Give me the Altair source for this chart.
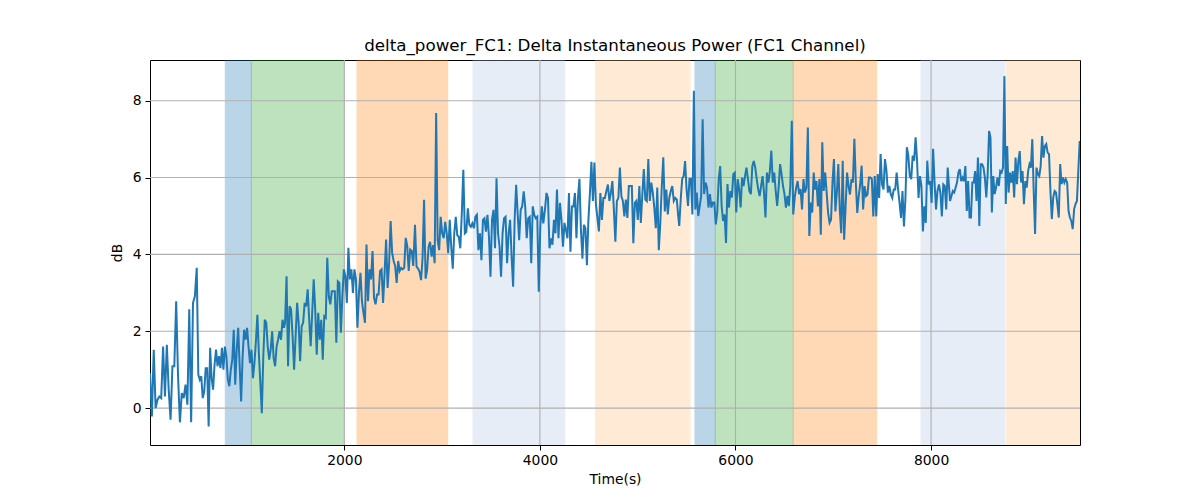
import altair as alt
import pandas as pd
import numpy as np

# ---- line data: values, per stretch of time ----
seg_bounds = [(13, 491), (507, 1383), (1394, 2705), (2723, 4035), (4052, 5415),
              (5425, 6800), (6813, 8170), (8194, 9520)]

seg1a = [0.91, -0.22, 1.52, 0, 0.22, 0.3, 0.26, 1.6, 0.3, 1.65, 0.48, -0.3, 1.09, 1.09, 2.78, 0.83,
         -0.37, 0.39, 0.26, 0.61, 0.09, 2.57, -0.37, 2.74, 2.91, 3.65]
seg1b = [0.87, 0.74, 0.83, 0.26, 0.43,
         1.04, 1.04, -0.48, 1.57, 0.78, 0.48, 1.13, 1.52, 1.09, 1.35, 1.04, 1.57, 1.0, 1.6, 1.35, 0.74,
         0.57, 1.0, 1.26, 2.04, 0.61, 1.52, 2.09, 1.09, 0.17, 1.35, 2.04, 1.78, 2.09, 1.6, 1.17, 1.52,
         0.78, 1.17, 1.74, 2.43, 1.43, 0.65, -0.13, 1.35, 2.3, 2.22, 1.6, 1.26, 1.52, 2.0, 1.3, 1.09,
         1.6, 1.78, 2.0, 1.78, 2.3, 2.09]
seg2 = [2.22, 3.43, 1.09, 2.65, 2.57, 1.87, 1.0, 1.87, 2.74, 2.22, 1.22, 2.13, 2.22, 2.74, 2.65,
        3.09, 2.3, 1.61, 2.48, 3.35, 2.57, 1.39, 2.48, 1.78, 2.3, 1.26, 2.39, 2.35, 3.91, 2.91, 2.7,
        3.04, 3.04, 3.04, 1.7, 3.3, 3.26, 1.96, 2.91, 3.61, 3.43, 2.74, 4.17, 3.35, 3.61, 3.0, 3.61,
        3.35, 2.09, 3.0, 3.52, 2.78, 2.48, 2.22, 4.26, 2.78, 3.61, 3.35, 4.09, 2.87, 2.7, 2.96, 2.96,
        3.57, 3.61, 2.74, 3.52, 4.39, 3.13, 3.78, 4.87, 4.04, 3.83, 3.7, 3.26, 3.83, 3.57, 3.65, 3.61,
        3.65, 4.43, 4.22, 3.57, 4.13, 4.09, 3.7]
seg3 = [4.77, 3.68, 3.63, 3.55, 3.33, 3.9, 5.42, 3.37, 3.59, 4.2, 4.33, 3.94, 4.24, 3.77, 7.68,
        4.37, 4.11, 4.98, 4.55, 4.42, 4.85, 4.55, 4.03, 4.9, 4.2, 3.63, 4.55, 4.98, 4.5, 4.46, 4.16,
        5.07, 6.2, 4.55, 4.59, 5.2, 4.77, 4.72, 4.81, 4.68, 4.98, 5.03, 4.11, 4.55, 3.85, 4.9, 4.94,
        4.59, 5.03, 4.46, 3.42, 4.9, 5.16, 4.16, 5.98, 4.55, 4.2, 3.42, 4.55, 4.94, 4.98, 3.77, 4.55,
        4.9, 3.94, 3.16, 4.9, 5.81, 5.07, 4.37, 5.16, 5.25, 5.64, 5.25, 4.42, 4.94, 4.98, 3.77, 5.25,
        5.03, 4.94, 4.98, 3.03, 4.72, 5.25, 4.81]
seg4 = [5.17, 5.6, 5.47, 4.16, 4.42, 4.25, 4.9, 4.55, 5.69, 4.42, 5.34, 4.9, 4.2, 4.82, 4.64, 4.42,
        5.6, 4.07, 5.25, 5.25, 5.6, 4.42, 5.47, 5.97, 4.64, 3.89, 4.77, 4.68, 3.72, 4.9, 5.6, 6.41,
        5.39, 6.39, 5.3, 4.95, 4.6, 5.6, 4.9, 5.47, 5.47, 5.65, 5.82, 5.39, 5.6, 5.91, 5.17, 4.33,
        5.39, 5.47, 6.26, 5.52, 5.39, 4.99, 5.43, 4.95, 5.78, 5.78, 5.78, 4.29, 5.34, 5.39, 4.9, 5.78,
        4.82, 5.56, 6.22, 5.43, 5.39, 6.48, 5.39, 5.87, 5.6, 5.21, 4.68, 5.74, 4.11, 4.82, 5.78, 6.53,
        5.12, 5.69, 5.04, 5.47, 5.65, 5.78, 5.39, 5.47, 5.43, 4.99]
seg5 = [4.74, 5.43, 5.96, 6.04, 6.43, 5.7, 5.26, 5.96, 5.96, 5.04, 8.26, 5.17, 5.61, 5.0, 5.26,
        5.52, 7.52, 5.57, 5.87, 5.74, 5.22, 5.57, 5.22, 5.35, 5.35, 4.78, 5.09, 5.96, 6.3, 5.26, 4.87,
        5.04, 4.3, 5.83, 5.22, 5.65, 5.48, 6.09, 6.13, 5.09, 5.96, 5.7, 5.22, 6.0, 5.78, 6.04, 6.26,
        5.96, 5.65, 5.57, 6.3, 6.43, 6.26, 5.96, 5.7, 5.52, 5.78, 6.04, 5.61, 4.96, 6.13, 5.87, 6.17,
        6.7, 5.87, 6.13, 5.65, 5.26, 5.74, 6.35, 6.09, 5.78, 5.57, 5.22, 5.52, 5.26, 5.78, 7.48, 5.04,
        5.48, 5.74, 5.91, 5.57, 5.7, 5.17, 5.96, 5.61, 5.74, 7.3, 4.48, 5.35, 5.09, 6.13]
seg6 = [5.69, 5.91, 5.25, 5.96, 4.51, 6.92, 5.65, 6.13, 5.61, 5.08, 4.82, 4.9, 5.87, 6.48, 5.12,
        5.61, 6.35, 5.17, 4.55, 6.44, 4.38, 5.25, 6.13, 5.78, 5.56, 5.96, 5.87, 7.01, 5.87, 5.08, 5.52,
        5.82, 6.31, 5.17, 5.78, 5.52, 5.56, 6.0, 6.0, 5.96, 4.99, 6.04, 4.99, 6.09, 5.47, 6.61, 5.82,
        5.69, 6.48, 6.18, 5.61, 5.78, 5.56, 5.47, 5.69, 5.69, 6.13, 5.69, 5.34, 4.95, 5.65, 4.73, 5.43,
        6.79, 6.57, 6.04, 5.96, 6.57, 6.44, 7.05, 6.44, 5.47, 6.04, 5.78, 4.6, 5.25, 4.82, 6.44, 5.82,
        5.91, 5.34, 6.75, 5.87, 5.17, 5.65, 5.82, 5.61, 4.99, 5.82, 5.78, 5.17, 6.26]
seg7 = [5.39, 5.52, 5.65, 5.61, 5.74, 5.87, 6.13, 6.22, 5.91, 6.0, 5.91, 6.3, 5.13, 5.91, 4.96,
        4.96, 5.87, 5.87, 6.17, 5.39, 6.52, 4.74, 6.35, 6.35, 6.26, 6.0, 5.48, 6.09, 7.21, 7.04, 5.09,
        6.04, 5.57, 5.74, 6.0, 5.78, 6.17, 6.13, 6.26, 8.64, 5.31, 6.82, 5.61, 6.13, 5.87, 6.17, 5.48,
        6.52, 5.83, 6.43, 6.69, 5.87, 6.17, 5.31, 5.91, 5.74, 6.17, 6.35, 6.26, 7.0, 5.65, 4.53, 6.26,
        6.09, 6.04, 6.3, 7.08, 6.52, 6.82, 6.87, 6.65, 6.61, 5.65, 4.92, 5.48, 5.65, 5.61, 5.31, 4.96,
        6.35, 5.83, 6.0, 5.87, 5.96, 5.87, 5.13, 4.96, 4.87, 4.66, 5.18, 5.31, 5.39, 6.17, 6.95]

segments = [seg1a, seg1b, seg2, seg3, seg4, seg5, seg6, seg7]

# ---- shaded spans ----
span_start = [783, 1049, 2130, 3316, 4569, 5586, 5793, 6590, 7897, 8773]
span_end = [1049, 2000, 3057, 4254, 5535, 5793, 6590, 7444, 8756, 9523]
span_color = ["#1f77b4", "#2ca02c", "#ff7f0e", "#aec7e8", "#ffbb78",
              "#1f77b4", "#2ca02c", "#ff7f0e", "#aec7e8", "#ffbb78"]

x_ticks = [2000, 4000, 6000, 8000]
y_ticks = [0, 2, 4, 6, 8]
x_domain = [13, 9523]
y_domain = [-0.96, 9.06]

times, vals = [], []
for (a, b), seg in zip(seg_bounds, segments):
    times += list(np.linspace(a, b, len(seg)))
    vals += seg
line_df = pd.DataFrame({"t": times, "v": vals})
span_df = pd.DataFrame({"s": span_start, "e": span_end, "c": span_color})
xg_df = pd.DataFrame({"x": x_ticks})
yg_df = pd.DataFrame({"y": y_ticks})

FONT = "DejaVu Sans"
xscale = alt.Scale(domain=x_domain, nice=False, zero=False)
yscale = alt.Scale(domain=y_domain, nice=False, zero=False)

xaxis = alt.Axis(values=x_ticks, format="d", grid=False, domain=False,
                 tickColor="black", tickSize=5, tickWidth=1,
                 labelColor="black", labelFont=FONT, labelFontSize=13.9,
                 labelPadding=3, labelFlush=False,
                 titleFont=FONT, titleFontSize=13.9, titleFontWeight="normal",
                 titleColor="black", titlePadding=6)
yaxis = alt.Axis(values=y_ticks, format="d", grid=False, domain=False,
                 tickColor="black", tickSize=5, tickWidth=1,
                 labelColor="black", labelFont=FONT, labelFontSize=13.9,
                 labelPadding=4, labelFlush=False,
                 titleFont=FONT, titleFontSize=13.9, titleFontWeight="normal",
                 titleColor="black", titlePadding=8)

spans = alt.Chart(span_df).mark_rect(opacity=0.3, strokeWidth=1, clip=True).encode(
    x=alt.X("s:Q", scale=xscale, axis=xaxis, title="Time(s)"),
    x2="e:Q",
    color=alt.Color("c:N", scale=None),
    stroke=alt.Color("c:N", scale=None),
)

xgrid = alt.Chart(xg_df).mark_rule(color="#b0b0b0", strokeWidth=1.1).encode(
    x=alt.X("x:Q", scale=xscale, axis=xaxis, title="Time(s)")
)
ygrid = alt.Chart(yg_df).mark_rule(color="#b0b0b0", strokeWidth=1.1).encode(
    y=alt.Y("y:Q", scale=yscale, axis=yaxis, title="dB")
)

line = alt.Chart(line_df).mark_line(color="#1f77b4", strokeWidth=2, clip=True).encode(
    x=alt.X("t:Q", scale=xscale, axis=xaxis, title="Time(s)"),
    y=alt.Y("v:Q", scale=yscale, axis=yaxis, title="dB"),
)

chart = alt.layer(spans, xgrid, ygrid, line).properties(
    width=930,
    height=385,
    autosize=alt.AutoSizeParams(type="none"),
    padding={"left": 142, "top": 52, "right": 112, "bottom": 45},
    title=alt.TitleParams(
        "delta_power_FC1: Delta Instantaneous Power (FC1 Channel)",
        font=FONT, fontSize=16.7, fontWeight="normal", color="black",
        anchor="middle", frame="group", baseline="alphabetic", offset=8, dy=16,
    ),
).configure_view(stroke="black", strokeWidth=1)

chart.save("out.html", embed_options={"renderer": "svg", "actions": False})
